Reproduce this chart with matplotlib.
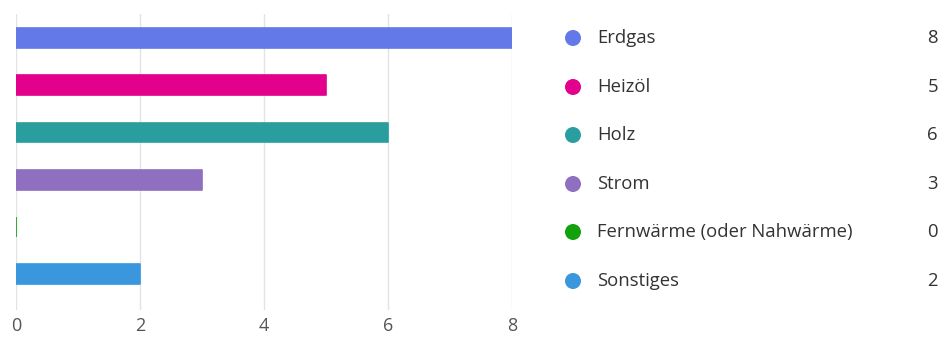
import matplotlib
matplotlib.use("Agg")
import matplotlib.pyplot as plt

# Heizungsarten aus der Umfrage
categories = ["Erdgas", "Heizöl", "Holz", "Strom", "Fernwärme (oder Nahwärme)", "Sonstiges"]
counts = [8, 5, 6, 3, 0, 2]
colors = ["#6479E8", "#E3008C", "#2A9E9E", "#8F6FC0", "#13A10E", "#3A96DD"]
xticks = [0, 2, 4, 6, 8]

plt.rcParams["font.family"] = ["Open Sans", "DejaVu Sans"]

W, H = 942, 338
fig = plt.figure(figsize=(W / 100, H / 100), dpi=100)
ax = fig.add_axes([16 / W, 1 - 310 / H, 496 / W, 296 / H])

ypos = list(range(len(categories)))
for y, v, c in zip(ypos, counts, colors):
    ax.barh(y, v, height=0.42, color=c, edgecolor=c, linewidth=1.2,
            joinstyle="round", zorder=3)

ax.set_xlim(0, 8)
ax.set_ylim(5.76, -0.51)
ax.set_xticks(xticks)
ax.set_yticks([])
ax.grid(axis="x", color="#e3e3e3", linewidth=1, zorder=0)
for s in ax.spines.values():
    s.set_visible(False)
ax.tick_params(axis="x", length=0, pad=5, labelsize=13, labelcolor="#555555")

# Legende rechts, in Pixelkoordinaten
lax = fig.add_axes([0, 0, 1, 1])
lax.set_xlim(0, W)
lax.set_ylim(H, 0)
lax.axis("off")
row_y = [38, 87, 135, 184, 232, 281]
lax.scatter([573] * len(row_y), row_y, s=110, c=colors, zorder=3)
for yy, name, v in zip(row_y, categories, counts):
    lax.text(597, yy, name, color="#333333", fontsize=13.3, ha="left", va="center")
    lax.text(938, yy, str(v), color="#333333", fontsize=13.3, ha="right", va="center")

fig.savefig("out.png", dpi=100, facecolor="white")
